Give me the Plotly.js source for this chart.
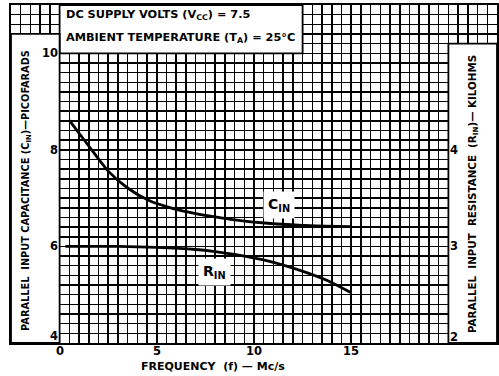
<!DOCTYPE html>
<html>
<head>
<meta charset="utf-8">
<script src="https://cdn.plot.ly/plotly-3.0.1.min.js"></script>
<style>html,body{margin:0;padding:0;background:#fff;}#chart{width:499px;height:376px;}</style>
</head>
<body>
<div id="chart"></div>
<script>
// Parallel input capacitance C_IN (pF) vs frequency (Mc/s)
const freqC = [0.5, 1.5, 2.5, 3.5, 4.6, 5.8, 7, 8, 9, 10.7, 12.9, 15];
const capC  = [8.61, 8.08, 7.56, 7.21, 6.95, 6.79, 6.68, 6.61, 6.55, 6.48, 6.43, 6.41];
// Parallel input resistance R_IN (kilohms) vs frequency (Mc/s)
const freqR = [0.3, 3, 5, 7, 8, 9, 10.7, 12.4, 13.8, 15];
const resR  = [3.0, 3.0, 2.99, 2.968, 2.947, 2.918, 2.85, 2.75, 2.645, 2.52];

const xTickVals = [0, 5, 10, 15];
const xTickText = ['0', '5', '10', '15'];
const leftTickVals = [4, 6, 8, 10];
const leftTickText = ['4', '6', '8', '10'];
const rightTickVals = [2, 3, 4];
const rightTickText = ['2', '3', '4'];

const condLines = ['DC SUPPLY VOLTS (V<sub>CC</sub>) = 7.5', 'AMBIENT TEMPERATURE (T<sub>A</sub>) = 25°C'];
const xTitle = 'FREQUENCY  (f) — Mc/s';
const leftTitle = 'PARALLEL  INPUT CAPACITANCE (C<sub>IN</sub>)—PICOFARADS';
const rightTitle = 'PARALLEL  INPUT  RESISTANCE  (R<sub>IN</sub>)— KILOHMS';

const FONT = 'DejaVu Sans, Liberation Sans, sans-serif';
const INK = '#000';
const gridStyle = {gridcolor: '#000', gridwidth: 1.5};

const traces = [
  {x: freqC, y: capC, mode: 'lines', line: {color: INK, width: 2.8, shape: 'spline', smoothing: 0.7}, xaxis: 'x', yaxis: 'y', hoverinfo: 'skip'},
  {x: freqR, y: resR, mode: 'lines', line: {color: INK, width: 2.8, shape: 'spline', smoothing: 0.7}, xaxis: 'x', yaxis: 'y2', hoverinfo: 'skip'}
];

const annotations = [];
const tickFont = {family: FONT, size: 11.5, color: INK, weight: 'bold'};
xTickVals.forEach((v, i) => {
  annotations.push({x: v, y: -0.0237, xref: 'x', yref: 'paper', text: xTickText[i], showarrow: false,
    xanchor: 'center', yanchor: 'middle', font: tickFont});
});
leftTickVals.forEach((v, i) => {
  annotations.push({x: 0, y: v, xref: 'x', yref: 'y', text: leftTickText[i], showarrow: false,
    xanchor: 'right', yanchor: 'middle', xshift: 0, yshift: (i === 0 ? 7 : 0), font: tickFont});
});
rightTickVals.forEach((v, i) => {
  annotations.push({x: 20, y: v, xref: 'x', yref: 'y2', text: rightTickText[i], showarrow: false,
    xanchor: 'left', yanchor: 'middle', xshift: 0, yshift: (i === 0 ? 6 : 0), font: tickFont});
});
const condFont = {family: FONT, size: 11.3, color: INK, weight: 'bold'};
annotations.push({x: 0.25, y: 10.79, xref: 'x', yref: 'y', text: condLines[0], showarrow: false,
  xanchor: 'left', yanchor: 'middle', font: condFont});
annotations.push({x: 0.25, y: 10.31, xref: 'x', yref: 'y', text: condLines[1], showarrow: false,
  xanchor: 'left', yanchor: 'middle', font: condFont});
annotations.push({x: 0.4156, y: -0.071, xref: 'paper', yref: 'paper', text: xTitle, showarrow: false,
  xanchor: 'center', yanchor: 'middle', font: {family: FONT, size: 11, color: INK, weight: 'bold'}});
annotations.push({x: 0.0329, y: 0.4527, xref: 'paper', yref: 'paper', text: leftTitle, showarrow: false,
  textangle: -90, xanchor: 'center', yanchor: 'middle', font: {family: FONT, size: 9.8, color: INK, weight: 'bold'}});
annotations.push({x: 0.9506, y: 0.4408, xref: 'paper', yref: 'paper', text: rightTitle, showarrow: false,
  textangle: -90, xanchor: 'center', yanchor: 'middle', font: {family: FONT, size: 10.3, color: INK, weight: 'bold'}});
annotations.push({x: 11.3, y: 6.86, xref: 'x', yref: 'y', text: 'C<sub>IN</sub>', showarrow: false,
  bgcolor: '#fff', borderpad: 4, font: {family: FONT, size: 14, color: INK, weight: 'bold'}});
annotations.push({x: 7.97, y: 5.47, xref: 'x', yref: 'y', text: 'R<sub>IN</sub>', showarrow: false,
  bgcolor: '#fff', borderpad: 4, font: {family: FONT, size: 14, color: INK, weight: 'bold'}});

const boxLine = {color: INK, width: 1.8};
const shapes = [
  {type: 'rect', xref: 'x', yref: 'y', x0: 0, x1: 12.5, y0: 10, y1: 11, fillcolor: '#fff', line: boxLine, layer: 'above'},
  {type: 'rect', xref: 'x', yref: 'y', x0: -2.5, x1: 0, y0: 4, y1: 10.4, fillcolor: '#fff', line: boxLine, layer: 'above'},
  {type: 'rect', xref: 'x', yref: 'y', x0: 20, x1: 22.5, y0: 4, y1: 10.2, fillcolor: '#fff', line: boxLine, layer: 'above'}
];

const layout = {
  width: 499, height: 376,
  margin: {l: 11, r: 2, t: 5, b: 33, pad: 0},
  paper_bgcolor: '#fff', plot_bgcolor: '#fff',
  showlegend: false,
  xaxis: {
    range: [-2.5, 22.5], tickmode: 'array', tickvals: xTickVals, showticklabels: false,
    ticks: '', showgrid: true, ...gridStyle, zeroline: false,
    showline: true, mirror: true, linecolor: INK, linewidth: 2,
    minor: {tick0: 0, dtick: 0.5, showgrid: true, ...gridStyle, ticks: ''}
  },
  yaxis: {
    range: [4, 11], tickmode: 'array', tickvals: leftTickVals, showticklabels: false,
    ticks: '', showgrid: true, ...gridStyle, zeroline: false,
    showline: true, mirror: true, linecolor: INK, linewidth: 2,
    minor: {tick0: 4, dtick: 0.2, showgrid: true, ...gridStyle, ticks: ''}
  },
  yaxis2: {
    range: [2, 5.5], overlaying: 'y', side: 'right', showgrid: false, zeroline: false,
    showticklabels: false, ticks: '', showline: false
  },
  annotations: annotations,
  shapes: shapes
};

Plotly.newPlot('chart', traces, layout, {displayModeBar: false, staticPlot: true});
</script>
</body>
</html>
